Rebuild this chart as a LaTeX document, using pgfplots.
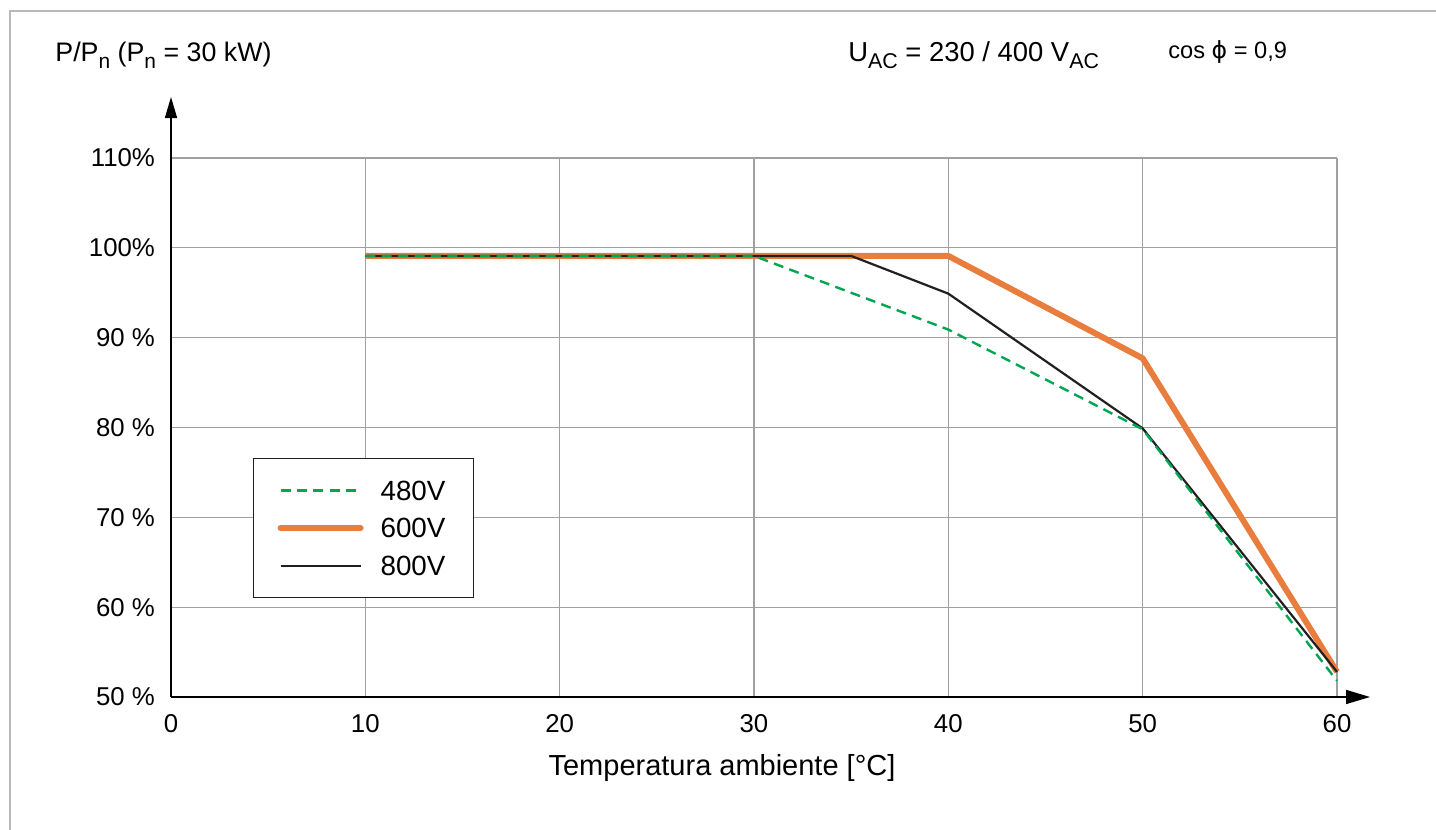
\documentclass[border=0pt]{standalone}
\usepackage{fontspec}
\setmainfont{Liberation Sans}
\newfontfamily\djv{DejaVu Sans}
\usepackage{pgfplots}
\pgfplotsset{compat=1.18}
\usetikzlibrary{arrows.meta}
\definecolor{cgreen}{RGB}{0,166,81}
\definecolor{corange}{RGB}{232,125,62}
\definecolor{cblack}{RGB}{35,31,32}
\definecolor{cgrid}{RGB}{160,160,160}
\newcommand{\sub}[1]{\raisebox{-0.25em}{\scalebox{0.78}{#1}}}
\begin{document}
\begin{tikzpicture}[x=0.5pt,y=0.5pt]
\useasboundingbox (0,0) rectangle (1436,830);
\draw[color=black!28,line width=0.6pt] (10,0) -- (10,819) -- (1436,819);
\begin{axis}[
  at={(85.5pt,66.5pt)}, anchor=south west,
  scale only axis, width=583pt, height=269.5pt,
  xmin=0, xmax=60, ymin=50, ymax=110,
  xtick={0,10,...,60}, ytick={50,60,...,110},
  yticklabels={50 \%,60 \%,70 \%,80 \%,90 \%,100\%,110\%},
  /pgf/number format/assume math mode=true,
  axis line style={draw=none},
  major tick length=0pt,
  grid=major,
  grid style={color=cgrid,line width=0.6pt},
  clip=false,
  tick label style={font=\fontsize{12.9}{15}\selectfont},
  xticklabel style={yshift=-5pt},
  yticklabel style={xshift=-4.5pt},
  legend style={at={(0.0703,0.4434)}, anchor=north west,
    draw=cblack, line width=0.6pt, inner xsep=12pt, inner ysep=9pt,
    row sep=5pt, column sep=6.5pt,
    nodes={inner sep=2pt, text height=9.8pt, text depth=0pt},
    font=\fontsize{13.9}{16}\selectfont},
  legend cell align=left,
  legend image code/.code={\draw[#1] (0pt,0pt) -- (40pt,0pt);},
]
\addlegendimage{color=cgreen, line width=1.2pt, dash pattern=on 5pt off 3.2pt}
\addlegendentry{480V}
\addlegendimage{color=corange, line width=3pt, line cap=round}
\addlegendentry{600V}
\addlegendimage{color=cblack, line width=1.1pt}
\addlegendentry{800V}
\addplot[forget plot, color=corange, line width=3pt, line join=round] coordinates {(10,99.1) (40,99.1) (50,87.7) (60,52.8)};
\addplot[forget plot, color=cblack, line width=1.1pt] coordinates {(10,99.1) (35,99.1) (40,94.9) (50,79.9) (60,52.8)};
\addplot[forget plot, color=cgreen, line width=1.2pt, dash pattern=on 5pt off 3.2pt] coordinates {(10,99.1) (30,99.1) (40,90.9) (50,79.8) (60,51.8)};
\draw[color=black, line width=0.75pt, -{Triangle[length=12pt,width=7pt]}] (axis cs:0,50) -- ([xshift=16.5pt]axis cs:60,50);
\draw[color=black, line width=0.75pt, -{Triangle[length=10.5pt,width=6pt]}] (axis cs:0,50) -- ([yshift=30.5pt]axis cs:0,110);
\end{axis}
\node[anchor=base west, inner sep=0pt, font=\fontsize{13.4}{16}\selectfont] at (55,768) {P/P\sub{n} (P\sub{n} = 30 kW)};
\node[anchor=base west, inner sep=0pt, font=\fontsize{13.7}{16}\selectfont] at (848,768) {U\sub{AC} = 230 / 400 V\sub{AC}};
\node[anchor=base west, inner sep=0pt, font=\fontsize{11.8}{14}\selectfont] at (1168,771) {cos {\djv ϕ} = 0,9};
\node[anchor=base, inner sep=0pt, font=\fontsize{14.5}{17}\selectfont] at (722,54) {Temperatura ambiente [°C]};
\end{tikzpicture}
\end{document}
